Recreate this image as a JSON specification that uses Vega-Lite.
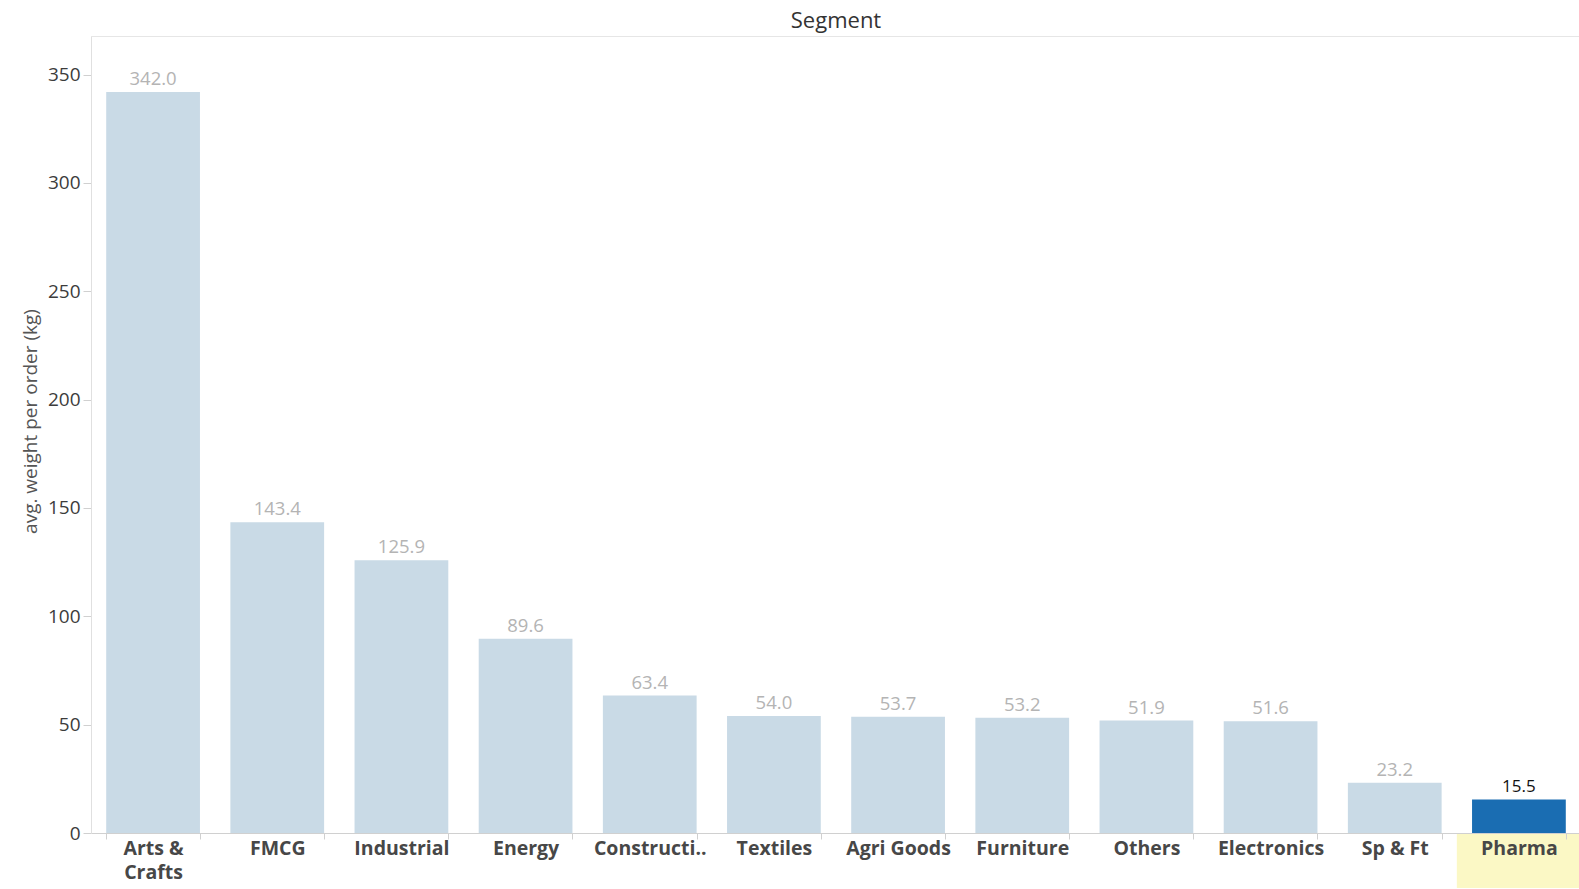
{
  "$schema": "https://vega.github.io/schema/vega-lite/v6.json",
  "autosize": {"type": "none"},
  "padding": {"left": 91, "top": 36, "right": 0, "bottom": 56},
  "width": 1490,
  "height": 797,
  "background": "white",
  "config": {
    "view": {"stroke": "#e6e6e6", "strokeWidth": 1},
    "font": "Lato"
  },
  "title": {
    "text": "Segment",
    "anchor": "middle",
    "fontSize": 22,
    "font": "Open Sans",
    "fontWeight": "normal",
    "color": "#333333",
    "offset": 3
  },
  "data": {
    "values": [
      {"segment": "Arts & Crafts", "weight": 342.0, "highlight": "no"},
      {"segment": "FMCG", "weight": 143.4, "highlight": "no"},
      {"segment": "Industrial", "weight": 125.9, "highlight": "no"},
      {"segment": "Energy", "weight": 89.6, "highlight": "no"},
      {"segment": "Construction", "weight": 63.4, "highlight": "no"},
      {"segment": "Textiles", "weight": 54.0, "highlight": "no"},
      {"segment": "Agri Goods", "weight": 53.7, "highlight": "no"},
      {"segment": "Furniture", "weight": 53.2, "highlight": "no"},
      {"segment": "Others", "weight": 51.9, "highlight": "no"},
      {"segment": "Electronics", "weight": 51.6, "highlight": "no"},
      {"segment": "Sp & Ft", "weight": 23.2, "highlight": "no"},
      {"segment": "Pharma", "weight": 15.5, "highlight": "yes"}
    ]
  },
  "encoding": {
    "x": {
      "field": "segment",
      "type": "nominal",
      "sort": ["Arts & Crafts", "FMCG", "Industrial", "Energy", "Construction", "Textiles", "Agri Goods", "Furniture", "Others", "Electronics", "Sp & Ft", "Pharma"],
      "scale": {"paddingInner": 0.245, "paddingOuter": 0.1225},
      "axis": {
        "title": null,
        "zindex": 1,
        "labelAngle": 0,
        "labelFont": "Open Sans",
        "labelFontWeight": "bold",
        "labelFontSize": 19.5,
        "labelColor": "#474747",
        "labelPadding": 0,
        "labelLineHeight": 24,
        "labelExpr": "datum.value == 'Arts & Crafts' ? ['Arts &', 'Crafts'] : (datum.value == 'Construction' ? 'Constructi..' : datum.value)",
        "tickBand": "extent",
        "tickSize": 6,
        "tickColor": "#d0d0d0",
        "domainColor": "#d0d0d0"
      }
    },
    "y": {
      "field": "weight",
      "type": "quantitative",
      "scale": {"domain": [0, 367.8], "nice": false},
      "axis": {
        "title": "avg. weight per order (kg)",
        "titleFont": "Open Sans",
        "titleFontWeight": "normal",
        "titleFontSize": 19,
        "titleColor": "#555555",
        "titleY": 385,
        "titlePadding": 7,
        "values": [0, 50, 100, 150, 200, 250, 300, 350],
        "labelFont": "Open Sans",
        "labelFontSize": 19,
        "labelColor": "#3c3c3c",
        "labelPadding": 3,
        "tickSize": 8,
        "tickColor": "#d0d0d0",
        "domainColor": "#e0e0e0",
        "grid": false,
        "zindex": 1
      }
    }
  },
  "layer": [
    {
      "transform": [{"filter": "datum.highlight == 'yes'"}],
      "mark": {"type": "bar", "color": "#fbf8c5", "width": {"band": 1.3245}, "clip": false},
      "encoding": {
        "y": {"datum": 0},
        "y2": {"datum": -25.4}
      }
    },
    {
      "mark": {"type": "bar"},
      "encoding": {
        "color": {
          "field": "highlight",
          "type": "nominal",
          "scale": {"domain": ["no", "yes"], "range": ["#c9dae6", "#1a6db2"]},
          "legend": null
        }
      }
    },
    {
      "mark": {"type": "text", "baseline": "bottom", "dy": -3, "font": "Open Sans"},
      "encoding": {
        "text": {"field": "weight", "type": "quantitative", "format": ".1f"},
        "color": {
          "field": "highlight",
          "type": "nominal",
          "scale": {"domain": ["no", "yes"], "range": ["#b4b4b4", "#111111"]},
          "legend": null
        },
        "fontWeight": {
          "field": "highlight",
          "type": "nominal",
          "scale": {"domain": ["no", "yes"], "range": [400, 600]},
          "legend": null
        },
        "size": {
          "field": "highlight",
          "type": "nominal",
          "scale": {"domain": ["no", "yes"], "range": [18.5, 17]},
          "legend": null
        }
      }
    }
  ],
  "resolve": {"scale": {"color": "independent"}}
}
